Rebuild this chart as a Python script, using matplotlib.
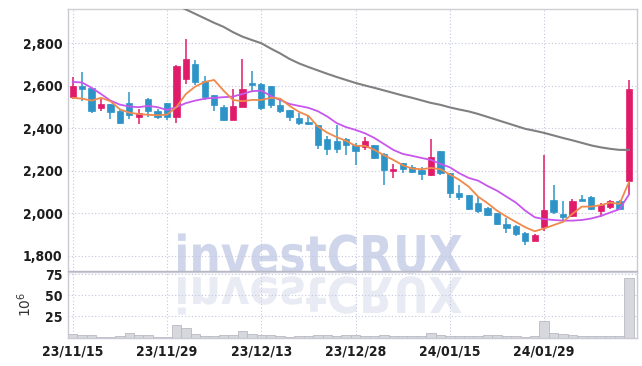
import numpy as np
import pandas as pd
import matplotlib
matplotlib.use("Agg")
import matplotlib.pyplot as plt
import matplotlib.transforms as mtransforms
from matplotlib import font_manager as fm
from matplotlib.textpath import TextPath
from matplotlib.patches import PathPatch
from matplotlib.font_manager import FontProperties

# trading days (KRX holidays removed)
days = pd.bdate_range("2023-11-15", "2024-02-13")
days = days.drop(pd.to_datetime(["2023-12-25", "2023-12-29", "2024-01-01",
                                 "2024-02-09", "2024-02-12"]))
day_labels = days.strftime("%y/%m/%d")

opens = [2549, 2599, 2588, 2496, 2514, 2483, 2518, 2455, 2536, 2480,
         2518, 2455, 2633, 2703, 2624, 2555, 2499, 2439, 2502, 2615,
         2608, 2599, 2511, 2486, 2448, 2430, 2414, 2351, 2342, 2351,
         2320, 2313, 2320, 2279, 2200, 2235, 2216, 2204, 2182, 2292,
         2188, 2094, 2085, 2050, 2025, 2000, 1950, 1940, 1909, 1871,
         1934, 2063, 1997, 1987, 2069, 2078, 2012, 2028, 2059, 2151]
highs = [2640, 2666, 2590, 2539, 2516, 2489, 2571, 2489, 2542, 2489,
         2520, 2699, 2819, 2721, 2646, 2558, 2511, 2586, 2728, 2671,
         2612, 2600, 2536, 2487, 2471, 2461, 2416, 2364, 2417, 2353,
         2329, 2358, 2322, 2281, 2232, 2238, 2226, 2219, 2348, 2294,
         2190, 2132, 2087, 2078, 2027, 2003, 1978, 1945, 1911, 1900,
         2276, 2132, 2059, 2066, 2088, 2080, 2050, 2062, 2062, 2627]
lows = [2538, 2527, 2471, 2480, 2445, 2420, 2445, 2420, 2455, 2442,
        2439, 2424, 2608, 2602, 2533, 2480, 2433, 2437, 2500, 2574,
        2486, 2496, 2473, 2433, 2417, 2417, 2304, 2276, 2285, 2276,
        2226, 2298, 2257, 2135, 2166, 2188, 2188, 2157, 2176, 2182,
        2072, 2063, 2015, 2000, 1985, 1944, 1906, 1893, 1852, 1868,
        1918, 1997, 1962, 1981, 2056, 2015, 1984, 2022, 2016, 2091]
closes = [2599, 2586, 2483, 2514, 2477, 2426, 2461, 2473, 2480, 2455,
          2455, 2693, 2725, 2618, 2546, 2511, 2439, 2505, 2584, 2605,
          2496, 2508, 2483, 2455, 2424, 2420, 2323, 2304, 2304, 2323,
          2295, 2339, 2260, 2204, 2210, 2210, 2194, 2185, 2264, 2191,
          2094, 2078, 2022, 2012, 1993, 1950, 1931, 1903, 1868, 1899,
          2016, 2006, 1984, 2056, 2059, 2022, 2040, 2056, 2019, 2584]

ma5 = [2543, 2539, 2530, 2543, 2527, 2489, 2473, 2467, 2463, 2461,
       2464, 2499, 2561, 2596, 2618, 2627, 2577, 2533, 2527, 2533,
       2533, 2543, 2539, 2505, 2477, 2458, 2408, 2379, 2358, 2340,
       2317, 2317, 2298, 2273, 2251, 2226, 2210, 2207, 2213, 2207,
       2182, 2157, 2125, 2078, 2047, 2012, 1984, 1959, 1934, 1915,
       1928, 1944, 1959, 1997, 2031, 2031, 2038, 2050, 2044, 2147]
ma10 = [2618, 2615, 2590, 2561, 2530, 2511, 2502, 2499, 2505, 2499,
        2486, 2499, 2518, 2530, 2539, 2543, 2546, 2549, 2561, 2574,
        2577, 2552, 2533, 2514, 2505, 2496, 2480, 2455, 2424, 2405,
        2392, 2376, 2354, 2326, 2298, 2279, 2270, 2260, 2251, 2232,
        2216, 2188, 2166, 2153, 2128, 2106, 2078, 2050, 2012, 1981,
        1972, 1968, 1965, 1965, 1968, 1975, 1987, 2003, 2019, 2088]
ma60 = [np.nan] * 11 + [
        2980, 2959, 2938, 2917, 2896, 2877, 2852, 2831, 2815,
        2800, 2775, 2752, 2726, 2705, 2688, 2672, 2656, 2641, 2627,
        2613, 2601, 2590, 2578, 2566, 2554, 2543, 2531, 2519, 2510,
        2498, 2488, 2479, 2467, 2453, 2439, 2425, 2411, 2397, 2388,
        2378, 2366, 2354, 2343, 2331, 2319, 2310, 2303, 2298, 2298]

volume = [4, 3.5, 2.5, 1, 1, 1.5, 5, 2.5, 2.5, 1,
          1, 14.5, 11.3, 4, 2, 1.5, 2.5, 3, 7.3, 4,
          3, 3, 1.5, 1, 2, 1.5, 2.5, 2.5, 2, 3.5,
          3, 1.5, 1.5, 2.5, 1.5, 1.5, 1.5, 2, 5.7, 2.5,
          2, 1.5, 1.5, 1.5, 2.5, 2.5, 2, 1.5, 1, 1.5,
          20, 5.7, 4, 3.5, 1.5, 1.5, 1.5, 1.5, 1.5, 71]

x = np.arange(len(days))
o = np.array(opens); c = np.array(closes)
up = c >= o
RED, BLUE = "#e01b6a", "#2e94c8"
cols = np.where(up, RED, BLUE)

# pick a narrow font for the axis labels if one is installed
installed = {(f.name, f.stretch) for f in fm.fontManager.ttflist}
names = {n for n, _ in installed}
if "Liberation Sans Narrow" in names:
    lab_prop = dict(fontfamily="Liberation Sans Narrow", fontweight="bold")
elif ("DejaVu Sans", "condensed") in installed:
    lab_prop = dict(fontfamily="DejaVu Sans", fontweight="bold", fontstretch="condensed")
elif "Roboto Condensed" in names:
    lab_prop = dict(fontfamily="Roboto Condensed", fontweight="bold")
else:
    lab_prop = dict(fontfamily="Roboto", fontweight="bold")

grid_c = "#c3c7dd"
edge_c = "#c9cad6"

fig = plt.figure(figsize=(6.42, 3.66), dpi=100)
ax = fig.add_axes([68 / 642, 1 - 271 / 366, 569 / 642, 262 / 366])
axv = fig.add_axes([68 / 642, 1 - 337.5 / 366, 569 / 642, 65.5 / 366], sharex=ax)
for a in (ax, axv):
    a.set_facecolor("none")

# watermark and its reflection
fp = FontProperties(family="DejaVu Sans", weight="bold")
tp = TextPath((0, 0), "investCRUX", size=1, prop=fp)
ext = tp.get_extents()
sx = 284 / ext.width
sy = 38 / 0.73
tr = mtransforms.Affine2D().translate(-ext.x0, 0).scale(sx, sy).translate(178, 366 - 273)
fig.add_artist(PathPatch(tp, transform=tr, facecolor="#cfd5ea", edgecolor="none", zorder=-1))
trm = mtransforms.Affine2D().translate(-ext.x0, 0).scale(sx, -sy * 0.95).translate(178, 366 - 277)
fig.add_artist(PathPatch(tp, transform=trm, facecolor="#e8ebf3", edgecolor="none", zorder=-1))

# candles
ax.vlines(x, lows, highs, colors=cols, linewidth=1.1, zorder=3)
body = np.maximum(np.abs(c - o), 4)
ax.bar(x, body, bottom=np.minimum(o, c), width=0.66, color=cols,
       edgecolor=cols, linewidth=0.5, zorder=4)

ax.plot(x, ma60, color="#808080", linewidth=1.5, zorder=5)
ax.plot(x, ma10, color="#c856ec", linewidth=1.3, zorder=5)
ax.plot(x, ma5, color="#ef8a4c", linewidth=1.3, zorder=6)

ax.set_ylim(1728, 2961)
ax.set_yticks([1800, 2000, 2200, 2400, 2600, 2800])
ax.set_yticklabels([f"{v:,}" for v in [1800, 2000, 2200, 2400, 2600, 2800]])

axv.bar(x, volume, width=1.0, color="#d7d7de", edgecolor="#b9b9c4", linewidth=0.6, zorder=2)
axv.set_ylim(0, 77.7)
axv.set_yticks([25, 50, 75])
axv.set_ylabel(r"$10^6$", fontsize=10, color="#333333", labelpad=8)

ax.set_xlim(-0.5, 59.85)
axv.set_xticks(x[::10])
axv.set_xticklabels(day_labels[::10])
plt.setp(ax.get_xticklabels(), visible=False)

for a in (ax, axv):
    a.grid(True, linestyle=(0, (1, 2)), color=grid_c, linewidth=0.8)
    a.set_axisbelow(True)
    a.tick_params(length=0, pad=4, labelsize=10, labelcolor="#1e1e1e")
    for lbl in a.get_yticklabels() + a.get_xticklabels():
        lbl.set(**lab_prop)
    for s in a.spines.values():
        s.set_color(edge_c)
        s.set_linewidth(1.0)
axv.tick_params(axis="x", pad=5)
ax.spines["bottom"].set_color("#b4b4c0")
ax.spines["top"].set_color("#cfcfd4")

fig.savefig("out.png", dpi=100)
